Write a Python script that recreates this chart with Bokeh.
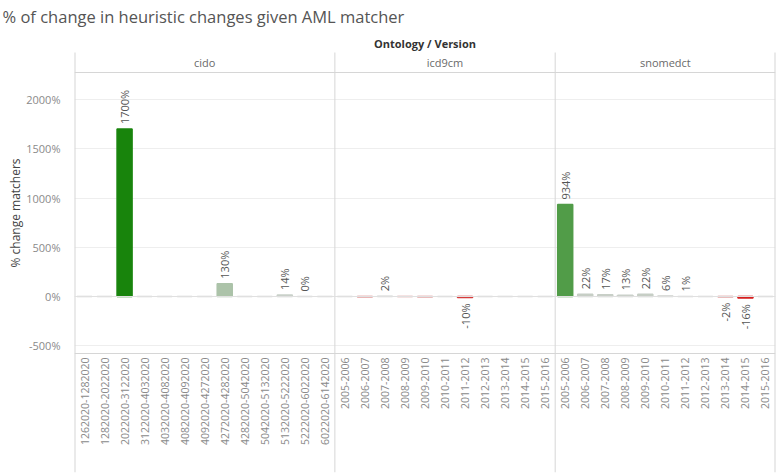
import math
from bokeh.plotting import figure
from bokeh.models import (ColumnDataSource, FactorRange, Range1d, FixedTicker, Span,
                          Title, PrintfTickFormatter)
from bokeh.embed import file_html
from bokeh.resources import INLINE
from bokeh.core.properties import value

# ---------------- data ----------------
title_text = "% of change in heuristic changes given AML matcher"
header_text = "Ontology / Version"
y_label = "% change matchers"

ontologies = ["cido", "icd9cm", "snomedct"]

cido_versions = ["1262020-1282020", "1282020-2022020", "2022020-3122020", "3122020-4032020",
                 "4032020-4082020", "4082020-4092020", "4092020-4272020", "4272020-4282020",
                 "4282020-5042020", "5042020-5132020", "5132020-5222020", "5222020-6022020",
                 "6022020-6142020"]
cido_values = [0, 0, 1700, 0, 0, 0, 0, 130, 0, 0, 14, 0, 0]
cido_labels = ["", "", "1700%", "", "", "", "", "130%", "", "", "14%", "0%", ""]

icd9cm_versions = ["2005-2006", "2006-2007", "2007-2008", "2008-2009", "2009-2010", "2010-2011",
                   "2011-2012", "2012-2013", "2013-2014", "2014-2015", "2015-2016"]
icd9cm_values = [0, -3, 2, -1, -2, 0, -10, 0, 0, 0, 0]
icd9cm_labels = ["", "", "2%", "", "", "", "-10%", "", "", "", ""]

snomedct_versions = ["2005-2006", "2006-2007", "2007-2008", "2008-2009", "2009-2010", "2010-2011",
                     "2011-2012", "2012-2013", "2013-2014", "2014-2015", "2015-2016"]
snomedct_values = [934, 22, 17, 13, 22, 6, 1, 0, -2, -16, 0]
snomedct_labels = ["934%", "22%", "17%", "13%", "22%", "6%", "1%", "", "-2%", "-16%", ""]

y_ticks = [-500, 0, 500, 1000, 1500, 2000]

# ---------------- build ----------------
groups = [(ontologies[0], cido_versions, cido_values, cido_labels),
          (ontologies[1], icd9cm_versions, icd9cm_values, icd9cm_labels),
          (ontologies[2], snomedct_versions, snomedct_values, snomedct_labels)]

xs, vals, labs = [], [], []
for ont, vers, vs, ls in groups:
    for v, val, lab in zip(vers, vs, ls):
        xs.append((ont, v))
        vals.append(val)
        labs.append(lab)

max_pos = max(vals)
min_neg = min(vals)
NEUTRAL = (212, 212, 212)
POS = (24, 132, 12)
NEG = (214, 30, 30)


def color_for(v):
    if v >= 0:
        t = (v / max_pos) ** 0.6 if max_pos > 0 else 0
        c = POS
    else:
        t = (v / min_neg) ** 0.35
        c = NEG
    rgb = [round(n + (cc - n) * t) for n, cc in zip(NEUTRAL, c)]
    return "#%02x%02x%02x" % tuple(rgb)


colors = [color_for(v) for v in vals]
src = ColumnDataSource(dict(x=xs, top=vals, color=colors))

pos_idx = [i for i, l in enumerate(labs) if l and vals[i] >= 0]
neg_idx = [i for i, l in enumerate(labs) if l and vals[i] < 0]
pos_src = ColumnDataSource(dict(x=[xs[i] for i in pos_idx], y=[vals[i] for i in pos_idx],
                                t=[labs[i] for i in pos_idx]))
neg_src = ColumnDataSource(dict(x=[xs[i] for i in neg_idx], y=[vals[i] for i in neg_idx],
                                t=[labs[i] for i in neg_idx]))

FONT = "Open Sans"
LINE = "#d6d6d6"

# ---------------- geometry (pixels on the page) ----------------
W, H = 778, 475
FRAME_L, FRAME_R = 74, 775
FRAME_T, FRAME_B = 30, 472
ZERO_Y = 296
PX_PER_UNIT = (296 - 99) / 2000.0


def ydata(py):
    return (ZERO_Y - py) / PX_PER_UNIT


x_range = FactorRange(factors=xs, factor_padding=0, group_padding=0, range_padding=0)

p = figure(width=W, height=H, x_range=x_range,
           y_range=Range1d(ydata(FRAME_B), ydata(FRAME_T)),
           output_backend="svg", toolbar_location=None,
           min_border_left=FRAME_L, min_border_right=W - FRAME_R,
           min_border_top=FRAME_T, min_border_bottom=H - FRAME_B)

p.title.text = title_text
p.title.text_font = FONT
p.title.text_font_size = "16.5px"
p.title.text_font_style = "normal"
p.title.text_color = "#555555"
p.title.align = "left"
p.title.standoff = 5
p.title.offset = -72

p.add_layout(Title(text=y_label, align="left", offset=205, text_font=FONT,
                   text_font_size="12px", text_font_style="normal",
                   text_color="#444444", standoff=0), "left")

p.outline_line_color = None
p.background_fill_color = "white"
p.border_fill_color = "white"

# grid
p.xgrid.grid_line_color = None
p.ygrid.ticker = FixedTicker(ticks=y_ticks)
p.ygrid.grid_line_color = "#eeeeee"

# y axis
p.yaxis.ticker = FixedTicker(ticks=y_ticks)
p.yaxis.formatter = PrintfTickFormatter(format="%d%%")
p.yaxis.axis_line_color = None
p.yaxis.major_tick_line_color = None
p.yaxis.minor_tick_line_color = None
p.yaxis.major_label_text_font = FONT
p.yaxis.major_label_text_font_size = "11px"
p.yaxis.major_label_text_color = "#8a8a8a"
p.yaxis.major_label_standoff = 8

# the category labels are drawn inside the frame band below the axis line
p.xaxis.visible = False

# zero line
p.add_layout(Span(location=0, dimension="width", line_color="#e0e0e0", line_width=1))

# bars
p.vbar(x="x", top="top", bottom=0, width=0.75, source=src, fill_color="color",
       line_color="color", line_width=1.5)

# bar labels
p.text(x="x", y="y", text="t", source=pos_src, angle=math.pi / 2, text_align="left",
       text_baseline="middle", y_offset=-5, text_font=value(FONT), text_font_size="11px",
       text_color="#555555")
p.text(x="x", y="y", text="t", source=neg_src, angle=math.pi / 2, text_align="right",
       text_baseline="middle", y_offset=6, text_font=value(FONT), text_font_size="11px",
       text_color="#555555")

# category labels (versions)
cat_src = ColumnDataSource(dict(x=xs, t=[x[1] for x in xs], y=[ydata(357)] * len(xs)))
p.text(x="x", y="y", text="t", source=cat_src, angle=math.pi / 2, text_align="right",
       text_baseline="middle", text_font=value(FONT), text_font_size="10.5px",
       text_color="#8a8a8a")

# panel borders
bounds = [0]
for _, vers, _, _ in groups:
    bounds.append(bounds[-1] + len(vers))
p.add_layout(Span(location=ydata(72), dimension="width", line_color=LINE, line_width=1))
p.add_layout(Span(location=ydata(353), dimension="width", line_color=LINE, line_width=1))
p.segment(x0=bounds, x1=bounds, y0=[ydata(52)] * len(bounds), y1=[ydata(FRAME_B)] * len(bounds),
          line_color=LINE, line_width=[2 if b in (bounds[0], bounds[-1]) else 1 for b in bounds])

# panel headers
hdr_src = ColumnDataSource(dict(x=[g[0] for g in groups], t=[g[0] for g in groups],
                                y=[ydata(62)] * len(groups)))
p.text(x="x", y="y", text="t", source=hdr_src, text_align="center", text_baseline="middle",
       text_font=value(FONT), text_font_size="11px", text_color="#6a6a6a")

p.text(x=[bounds[-1] / 2.0], y=[ydata(43)], text=[header_text], text_align="center",
       text_baseline="middle", text_font=value(FONT), text_font_size="11px",
       text_font_style="bold", text_color="#333333")

open("out.html", "w").write(file_html(p, INLINE))
